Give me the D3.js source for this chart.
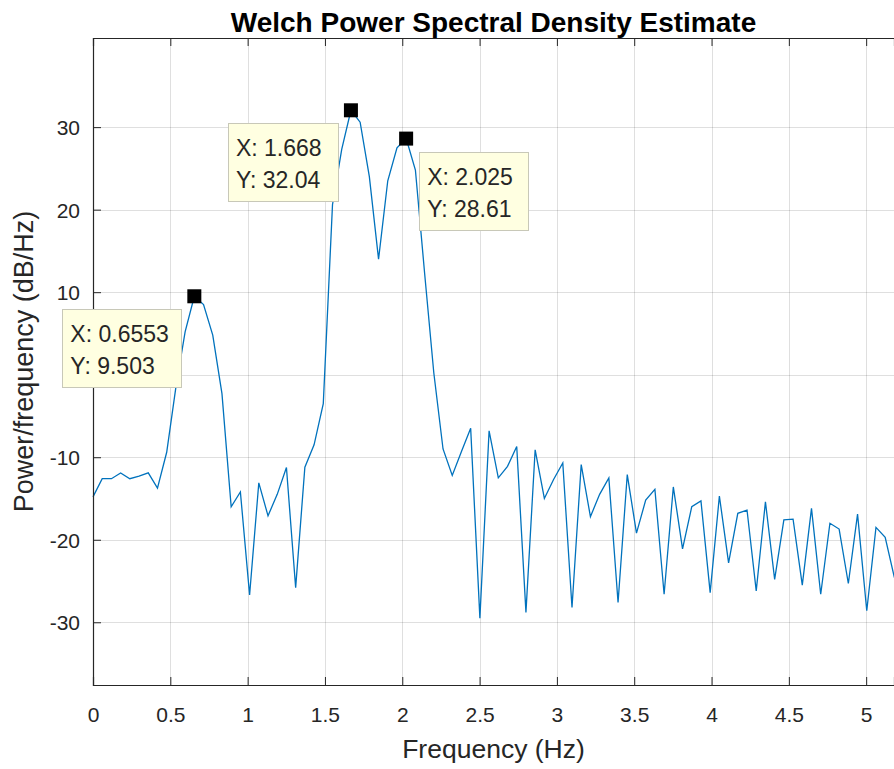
<!DOCTYPE html>
<html lang="en">
<head>
  <meta charset="utf-8" />
  <title>Welch Power Spectral Density Estimate</title>
  <style>
    body { margin: 0; background: #fff; font-family: "Liberation Sans", Arial, sans-serif; }
    .grid line { stroke: #262626; stroke-opacity: 0.15; }
    .tick text { fill: #262626; }
    .psd { fill: none; stroke: #0072bd; stroke-width: 1.3px; }
    .tip rect.box { fill: #ffffe1; stroke: #c8c8b8; }
  </style>
</head>
<body>
<script src="https://cdn.jsdelivr.net/npm/d3@7"></script>
<script>
  // frequency bin spacing (Hz) and PSD values (dB/Hz) per bin
  const binStep = 0.05957;
  const psdValues = [
    -14.8, -12.6, -12.6, -11.9, -12.6, -12.3, -11.9, -13.75, -9.4, -1.5,
    5.2, 9.503, 8.5, 4.8, -2.3, -16.0, -14.2, -26.7, -13.1, -17.1,
    -14.5, -11.25, -25.8, -11.2, -8.5, -3.5, 20.6, 27.3, 32.04, 30.6,
    24.0, 14.0, 23.5, 27.5, 28.61, 24.8, 12.3, 0.2, -9.0, -12.2,
    -9.3, -6.5, -29.5, -6.8, -12.5, -11.1, -8.7, -28.8, -9.1, -15.0,
    -12.7, -10.7, -28.2, -10.9, -17.2, -14.5, -12.5, -27.6, -12.1, -19.2,
    -15.2, -13.9, -26.6, -13.6, -21.1, -16.0, -15.3, -26.4, -14.7, -22.8,
    -16.8, -16.4, -26.2, -15.4, -24.8, -17.6, -17.5, -25.5, -16.2, -26.6,
    -18.0, -18.7, -25.3, -16.9, -28.6, -18.5, -19.7, -24.6
  ];

  const xTicks = [0, 0.5, 1, 1.5, 2, 2.5, 3, 3.5, 4, 4.5, 5];
  const yTicks = [-30, -20, -10, 0, 10, 20, 30];

  // data tips
  const tipX = [0.6553, 1.668, 2.025];
  const tipY = [9.503, 32.04, 28.61];
  const tipSide = ["left", "left", "right"];

  const width = 894;
  const height = 769;
  const m = { left: 93, top: 38, right: 894, bottom: 685 };

  const data = psdValues.map((v, i) => ({ f: i * binStep, p: v }));

  const x = d3.scaleLinear().domain([0, 5.18]).range([m.left, m.right]);
  const y = d3.scaleLinear().domain([-37.6, 40.8]).range([m.bottom, m.top]);

  const svg = d3.select("body")
    .append("svg")
    .attr("width", width)
    .attr("height", height);

  // grid
  svg.append("g").attr("class", "grid")
    .selectAll("line").data(xTicks).join("line")
    .attr("x1", d => Math.round(x(d)) + 0.5).attr("x2", d => Math.round(x(d)) + 0.5)
    .attr("y1", m.top).attr("y2", m.bottom);
  svg.append("g").attr("class", "grid")
    .selectAll("line").data(yTicks).join("line")
    .attr("x1", m.left).attr("x2", m.right)
    .attr("y1", d => Math.round(y(d)) + 0.5).attr("y2", d => Math.round(y(d)) + 0.5);

  // line
  const line = d3.line().x(d => x(d.f)).y(d => y(d.p));
  svg.append("path").datum(data).attr("class", "psd").attr("d", line);

  // axes
  const tickLen = 8;
  const xAxis = svg.append("g")
    .attr("transform", `translate(0,${m.bottom})`)
    .call(d3.axisBottom(x).tickValues(xTicks).tickSize(-tickLen).tickPadding(22)
      .tickFormat(d => String(d)));
  const xTop = svg.append("g")
    .attr("transform", `translate(0,${m.top})`)
    .call(d3.axisTop(x).tickValues(xTicks).tickSize(-tickLen).tickFormat(""));
  // the 0 label sits under the first data tip in the original, so it is left blank
  const yAxis = svg.append("g")
    .attr("transform", `translate(${m.left},0)`)
    .call(d3.axisLeft(y).tickValues(yTicks).tickSize(-tickLen).tickPadding(13)
      .tickFormat(d => d === 0 ? "" : String(d)));

  [xAxis, xTop, yAxis].forEach(g => {
    g.select(".domain").attr("stroke", "#262626").attr("stroke-width", 1.2);
    g.selectAll(".tick line").attr("stroke", "#262626");
  });
  xAxis.selectAll(".tick text").style("font-size", "21px");
  yAxis.selectAll(".tick text").style("font-size", "21px").attr("dy", "0.35em");

  // titles
  svg.append("text")
    .attr("x", (m.left + m.right) / 2).attr("y", 32)
    .attr("text-anchor", "middle")
    .style("font-size", "28px").style("font-weight", "bold").attr("fill", "#000")
    .text("Welch Power Spectral Density Estimate");
  svg.append("text")
    .attr("x", (m.left + m.right) / 2).attr("y", 758)
    .attr("text-anchor", "middle")
    .style("font-size", "26.5px").attr("fill", "#262626")
    .text("Frequency (Hz)");
  svg.append("text")
    .attr("transform", `translate(33,${(m.top + m.bottom) / 2}) rotate(-90)`)
    .attr("text-anchor", "middle")
    .style("font-size", "27px").attr("fill", "#262626")
    .text("Power/frequency (dB/Hz)");

  // data tips
  const tipW = [119, 110, 109];
  const tipH = 78;
  tipX.forEach((tx, i) => {
    const px = x(tx), py = y(tipY[i]);
    const g = svg.append("g").attr("class", "tip");
    const bx = tipSide[i] === "left" ? px - 13 - tipW[i] : px + 13;
    const by = py + 13;
    g.append("rect").attr("class", "box")
      .attr("x", Math.round(bx) + 0.5).attr("y", Math.round(by) + 0.5)
      .attr("width", tipW[i]).attr("height", tipH);
    g.append("text").attr("x", bx + 8).attr("y", by + 33)
      .style("font-size", "23px").attr("fill", "#262626")
      .text("X: " + tx);
    g.append("text").attr("x", bx + 8).attr("y", by + 65)
      .style("font-size", "23px").attr("fill", "#262626")
      .text("Y: " + tipY[i]);
    g.append("rect")
      .attr("x", px - 7).attr("y", py - 7)
      .attr("width", 14).attr("height", 14)
      .attr("fill", "#000");
  });
</script>
</body>
</html>
